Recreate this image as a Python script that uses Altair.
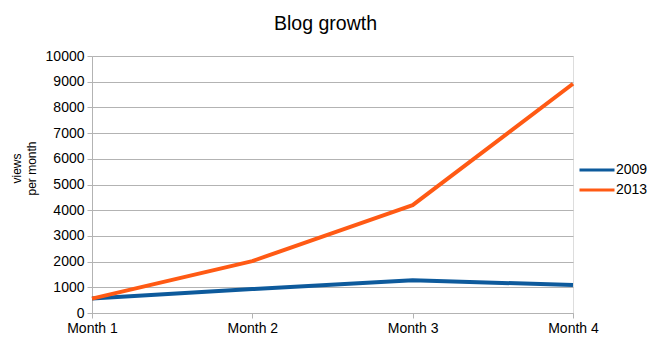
import altair as alt
import pandas as pd

months = ["Month 1", "Month 2", "Month 3", "Month 4"]
views_2009 = [560, 930, 1270, 1090]
views_2013 = [560, 2020, 4200, 8920]
series = ["2009", "2013"]
colors = ["#0d5a9c", "#ff5a14"]
y_ticks = list(range(0, 10001, 1000))

rows = []
for name, vals in zip(series, [views_2009, views_2013]):
    for m, v in zip(months, vals):
        rows.append({"Month": m, "Views": v, "Series": name})
df = pd.DataFrame(rows)

FONT = "Liberation Sans"

chart = alt.Chart(df).mark_line(strokeWidth=4, strokeJoin="round").encode(
    x=alt.X("Month:N", sort=months,
            scale=alt.Scale(type="point", padding=0),
            axis=alt.Axis(title=None, labelAngle=0, grid=False, labelFontSize=14,
                          labelColor="#000000", labelFont=FONT, tickSize=5,
                          tickColor="#b3b3b3", domainColor="#b3b3b3", labelPadding=3)),
    y=alt.Y("Views:Q", scale=alt.Scale(domain=[0, 10000], nice=False),
            axis=alt.Axis(values=y_ticks, format="d", title=["views", "per month"], titleFontSize=12,
                          titleFontWeight="normal", titleFont=FONT, titleColor="#000000",
                          titleAngle=-90, titleX=-69, titleY=112, titleBaseline="bottom",
                          titleAlign="center", titleLineHeight=15,
                          labelFontSize=14, labelColor="#000000", labelFont=FONT,
                          tickSize=5, tickColor="#b3b3b3", domainColor="#b3b3b3",
                          gridColor="#b3b3b3", labelPadding=3)),
    color=alt.Color("Series:N", scale=alt.Scale(domain=series, range=colors),
                    legend=alt.Legend(title=None, orient="none", legendX=486, legendY=104,
                                      symbolType="stroke", symbolSize=1225,
                                      symbolStrokeWidth=3, labelFontSize=14,
                                      labelFont=FONT, labelColor="#000000",
                                      clipHeight=20, rowPadding=0, labelOffset=0)),
).properties(
    width=481, height=257,
    title=alt.TitleParams("Blog growth", fontSize=19.5, fontWeight="normal", font=FONT,
                          color="#000000", anchor="middle", dx=-7, offset=15),
    autosize=alt.AutoSizeParams(type="none"),
    padding={"left": 92, "top": 56, "right": 87, "bottom": 41},
).configure_view(stroke="#b3b3b3").configure(background="white")

chart.save("out.html", embed_options={"renderer": "svg", "actions": False})
